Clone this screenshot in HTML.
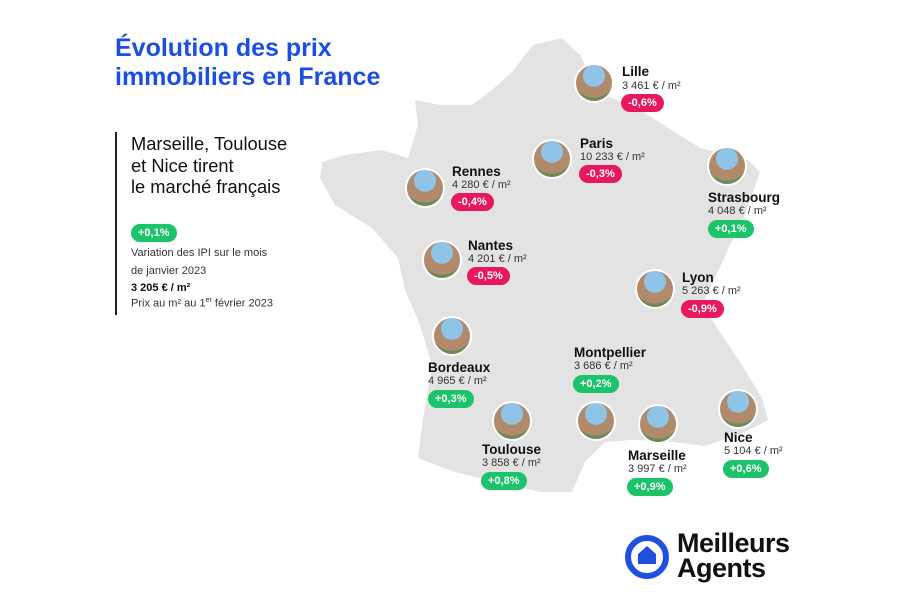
<!DOCTYPE html><html><head><meta charset="utf-8"><style>
body{margin:0;width:900px;height:600px;background:#fff;font-family:"Liberation Sans",sans-serif;position:relative;overflow:hidden;color:#111}
.a{position:absolute;white-space:nowrap}
.n{font-weight:bold;font-size:13.5px}
.p{font-size:11px;color:#333}
.b{position:absolute;height:18px;line-height:18px;border-radius:9px;color:#fff;font-weight:bold;font-size:11px;padding:0 7px}
.r{background:#e8185c}.g{background:#1cc36a}
.c{position:absolute;border-radius:50%;background:radial-gradient(circle at 50% 30%,#8fc3e8 0 35%,#b08a6a 36% 70%,#6b8a5a 71%);border:2px solid #fff}
</style></head><body>
<svg class="a" style="left:0;top:0" width="900" height="600">
<polygon fill="#e3e3e3" points="533,45 562,38 580,55 598,92 640,110 700,148 748,160 760,172 745,215 730,245 712,285 702,305 722,335 740,362 762,398 768,420 745,432 705,446 665,441 630,440 605,442 585,462 572,492 540,492 495,482 455,472 418,458 422,425 432,365 420,325 405,290 398,258 372,228 335,205 320,178 322,162 345,155 382,150 408,158 418,125 415,100 440,105 472,105 492,90 512,72"/>
</svg>
<div class="a" style="left:115px;top:34px;font-size:25px;font-weight:bold;color:#1b4fe3;line-height:29px">Évolution des prix<br>immobiliers en France</div>
<div class="a" style="left:115px;top:132px;width:2px;height:183px;background:#222"></div>
<div class="a" style="left:131px;top:133px;font-size:18.3px;line-height:21.5px">Marseille, Toulouse<br>et Nice tirent<br>le marché français</div>
<div class="b g" style="left:131px;top:224px">+0,1%</div>
<div class="a" style="left:131px;top:244px;font-size:11px;line-height:18px;color:#333">Variation des IPI sur le mois<br>de janvier 2023</div>
<div class="a" style="left:131px;top:282px;font-size:11px;font-weight:bold">3 205 € / m²</div>
<div class="a" style="left:131px;top:297px;font-size:11px;color:#333">Prix au m² au 1<sup style="font-size:7px">er</sup> février 2023</div>

<div class="c" style="left:574px;top:63px;width:36px;height:36px"></div>
<div class="a n" style="left:622px;top:64px">Lille</div><div class="a p" style="left:622px;top:80px">3 461 € / m²</div><div class="b r" style="left:621px;top:94px">-0,6%</div>

<div class="c" style="left:532px;top:139px;width:36px;height:36px"></div>
<div class="a n" style="left:580px;top:136px">Paris</div><div class="a p" style="left:580px;top:151px">10 233 € / m²</div><div class="b r" style="left:579px;top:165px">-0,3%</div>

<div class="c" style="left:405px;top:168px;width:36px;height:36px"></div>
<div class="a n" style="left:452px;top:164px">Rennes</div><div class="a p" style="left:452px;top:179px">4 280 € / m²</div><div class="b r" style="left:451px;top:193px">-0,4%</div>

<div class="c" style="left:707px;top:146px;width:36px;height:36px"></div>
<div class="a n" style="left:708px;top:190px">Strasbourg</div><div class="a p" style="left:708px;top:205px">4 048 € / m²</div><div class="b g" style="left:708px;top:220px">+0,1%</div>

<div class="c" style="left:422px;top:240px;width:36px;height:36px"></div>
<div class="a n" style="left:468px;top:238px">Nantes</div><div class="a p" style="left:468px;top:253px">4 201 € / m²</div><div class="b r" style="left:467px;top:267px">-0,5%</div>

<div class="c" style="left:635px;top:269px;width:36px;height:36px"></div>
<div class="a n" style="left:682px;top:270px">Lyon</div><div class="a p" style="left:682px;top:285px">5 263 € / m²</div><div class="b r" style="left:681px;top:300px">-0,9%</div>

<div class="c" style="left:432px;top:316px;width:36px;height:36px"></div>
<div class="a n" style="left:428px;top:360px">Bordeaux</div><div class="a p" style="left:428px;top:375px">4 965 € / m²</div><div class="b g" style="left:428px;top:390px">+0,3%</div>

<div class="a n" style="left:574px;top:345px">Montpellier</div><div class="a p" style="left:574px;top:360px">3 686 € / m²</div><div class="b g" style="left:573px;top:375px">+0,2%</div>
<div class="c" style="left:576px;top:401px;width:36px;height:36px"></div>

<div class="c" style="left:492px;top:401px;width:36px;height:36px"></div>
<div class="a n" style="left:482px;top:442px">Toulouse</div><div class="a p" style="left:482px;top:457px">3 858 € / m²</div><div class="b g" style="left:481px;top:472px">+0,8%</div>

<div class="c" style="left:638px;top:404px;width:36px;height:36px"></div>
<div class="a n" style="left:628px;top:448px">Marseille</div><div class="a p" style="left:628px;top:463px">3 997 € / m²</div><div class="b g" style="left:627px;top:478px">+0,9%</div>

<div class="c" style="left:718px;top:389px;width:36px;height:36px"></div>
<div class="a n" style="left:724px;top:430px">Nice</div><div class="a p" style="left:724px;top:445px">5 104 € / m²</div><div class="b g" style="left:723px;top:460px">+0,6%</div>

<svg class="a" style="left:624px;top:534px" width="46" height="46"><circle cx="23" cy="23" r="19" fill="none" stroke="#1f4fe0" stroke-width="6"/><path d="M14 30 V20 L23 12 L32 20 V30 Z" fill="#1f4fe0"/></svg>
<div class="a" style="left:677px;top:531px;font-size:27px;font-weight:bold;line-height:25px;color:#111;letter-spacing:-0.5px">Meilleurs<br>Agents</div>
</body></html>
